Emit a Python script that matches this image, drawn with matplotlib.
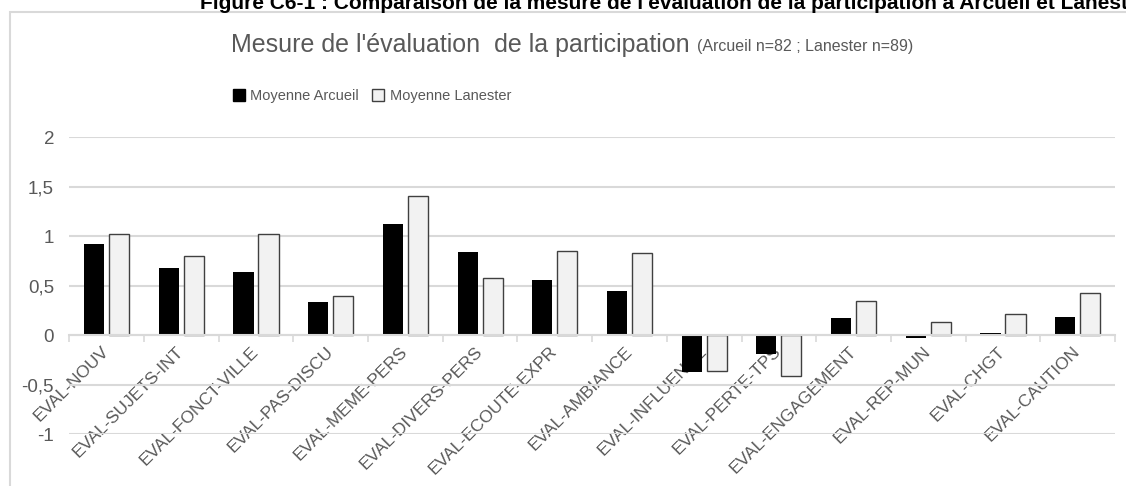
import matplotlib
matplotlib.use("Agg")
import matplotlib.pyplot as plt
from matplotlib.patches import Rectangle, Patch
from matplotlib.ticker import FixedLocator, FuncFormatter
import numpy as np

plt.rcParams['font.family'] = ['Liberation Sans', 'DejaVu Sans']

categories = ["EVAL-NOUV", "EVAL-SUJETS-INT", "EVAL-FONCT-VILLE", "EVAL-PAS-DISCU",
              "EVAL-MEME-PERS", "EVAL-DIVERS-PERS", "EVAL-ECOUTE-EXPR", "EVAL-AMBIANCE",
              "EVAL-INFLUENCE", "EVAL-PERTE-TPS", "EVAL-ENGAGEMENT", "EVAL-REP-MUN",
              "EVAL-CHGT", "EVAL-CAUTION"]
arcueil = [0.927, 0.679, 0.635, 0.336, 1.129, 0.840, 0.558, 0.450,
           -0.370, -0.188, 0.175, -0.027, 0.023, 0.185]
lanester = [1.028, 0.806, 1.028, 0.397, 1.408, 0.578, 0.847, 0.827,
            -0.360, -0.410, 0.343, 0.138, 0.215, 0.430]
yticks = [-1, -0.5, 0, 0.5, 1, 1.5, 2]

grey = "#595959"
light = "#d9d9d9"

fig = plt.figure(figsize=(11.26, 4.86), dpi=100)
W, H = 1126, 486

# outer chart frame (clipped on right / bottom like the source screenshot)
fig.patches.append(Rectangle((10 / W, -0.05), 1.2, 1 - 12 / H + 0.05,
                             transform=fig.transFigure, fill=False,
                             edgecolor=light, linewidth=1.5))

# document caption, cut off at the top and right as in the screenshot
fig.text(200 / W, 1 - 9 / H, "Figure C6-1 : Comparaison de la mesure de l'évaluation de la "
         "participation à Arcueil et Lanester", fontsize=15, fontweight='bold',
         color='black', ha='left', va='baseline')

ax = fig.add_axes([69.3 / W, 1 - 434.3 / H, (1115 - 69.3) / W, (434.3 - 137.3) / H])

x = np.arange(len(categories)) + 0.5
w = 0.27
ax.bar(x - 0.167, arcueil, w, color='black', label='Moyenne Arcueil', zorder=3)
ax.bar(x + 0.167, lanester, w, color='#f2f2f2', edgecolor='#404040', linewidth=1,
       label='Moyenne Lanester', zorder=3)

ax.set_xlim(0, len(categories))
ax.set_ylim(-1, 2)
ax.set_yticks(yticks)
ax.yaxis.set_major_formatter(FuncFormatter(lambda v, p: ('%g' % v).replace('.', ',')))
ax.grid(axis='y', color=light, linewidth=1.5, zorder=0)
ax.tick_params(axis='y', length=0, pad=11, labelsize=13.5, labelcolor=grey)

for s in ['top', 'right', 'left']:
    ax.spines[s].set_visible(False)
ax.spines['bottom'].set_position(('data', 0))
ax.spines['bottom'].set_color(light)
ax.spines['bottom'].set_linewidth(1.5)
ax.spines['bottom'].set_zorder(4)

ax.xaxis.set_major_locator(FixedLocator(np.arange(len(categories) + 1)))
ax.xaxis.set_minor_locator(FixedLocator(x))
ax.tick_params(axis='x', which='major', length=5, color=light, width=1.2, labelbottom=False)
ax.tick_params(axis='x', which='minor', length=0, pad=10)
ax.set_xticks(x, categories, minor=True)
for lab in ax.get_xticklabels(minor=True):
    lab.set_rotation(45)
    lab.set_rotation_mode('anchor')
    lab.set_ha('right')
    lab.set_va('center')
    lab.set_fontsize(12.5)
    lab.set_color(grey)

# chart title with smaller note
fig.text(690 / W, 1 - 45 / H, "Mesure de l'évaluation  de la participation", fontsize=18,
         color=grey, ha='right', va='center')
fig.text(697 / W, 1 - 46 / H, "(Arcueil n=82 ; Lanester n=89)", fontsize=11.5,
         color=grey, ha='left', va='center')

handles = [Patch(facecolor='black', edgecolor='black'),
           Patch(facecolor='#f2f2f2', edgecolor='#404040')]
fig.legend(handles, ['Moyenne Arcueil', 'Moyenne Lanester'], loc='center',
           bbox_to_anchor=(372 / W, 1 - 96 / H), ncol=2, frameon=False, fontsize=10.5,
           labelcolor=grey, handlelength=0.8, handleheight=0.9, handletextpad=0.4,
           columnspacing=0.9)

fig.savefig("out.png", dpi=100)
